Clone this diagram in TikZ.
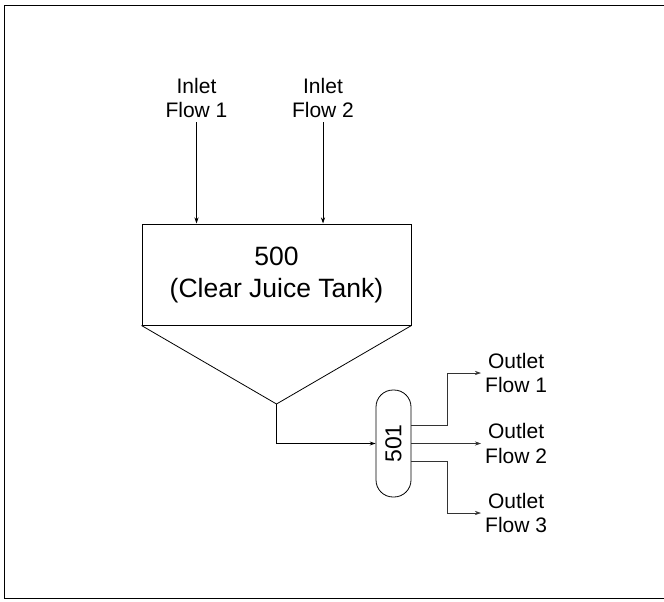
\documentclass[tikz,border=0pt]{standalone}
\usepackage{fontspec}
\setmainfont{Liberation Sans}
\usepackage{graphicx}
\usetikzlibrary{arrows.meta, positioning, calc}

\begin{document}
\begin{tikzpicture}[
    x=1pt, y=-1pt,
    tankbox/.style={draw, line width=1pt, minimum width=269pt, minimum height=101pt, align=center, font=\fontsize{26.5}{32}\selectfont},
    drumbox/.style={draw, line width=0.8pt, rounded corners=17pt, minimum width=35pt, minimum height=107pt, inner sep=0pt, font=\fontsize{23}{26}\selectfont},
    flowlabel/.style={align=center, inner sep=4pt, font=\fontsize{21}{24.5}\selectfont},
    arr/.style={-{Stealth[length=6pt, width=4pt]}, line width=0.8pt},
    outarr/.style={-{Stealth[length=6pt, width=4pt]}, line width=0.6pt, black!80}
]
\useasboundingbox (0,0) rectangle (664,602);
\draw[line width=0.9pt] (664,5) -| (4,598) -- (664,598);

\node[tankbox] (tank) at (276.5,274.5) {500\\(Clear Juice Tank)};
\coordinate (apex) at (276.5,404);
\node[drumbox] (drum) at (393.5,443.5) {\rotatebox{90}{501}};

\node[flowlabel] (in1) at (196.5,98) {Inlet\\Flow 1};
\node[flowlabel] (in2) at (323,98) {Inlet\\Flow 2};
\node[flowlabel, anchor=west] (out1) at (481,373) {Outlet\\Flow 1};
\node[flowlabel, anchor=west] (out2) at (481,443.5) {Outlet\\Flow 2};
\node[flowlabel, anchor=west] (out3) at (481,513) {Outlet\\Flow 3};

% cone under the tank
\draw[line width=0.8pt] (tank.south west) -- (apex) -- (tank.south east);

\draw[arr] (in1.south) -- (in1.south |- tank.north);
\draw[arr] (in2.south) -- (in2.south |- tank.north);
\draw[arr] (apex) |- (drum.west);

\draw[outarr] ($(drum.east)+(0,-18)$) -- ++(36,0) |- (out1.west);
\draw[outarr] (drum.east) -- (out2.west);
\draw[outarr] ($(drum.east)+(0,18)$) -- ++(36,0) |- (out3.west);
\end{tikzpicture}
\end{document}
